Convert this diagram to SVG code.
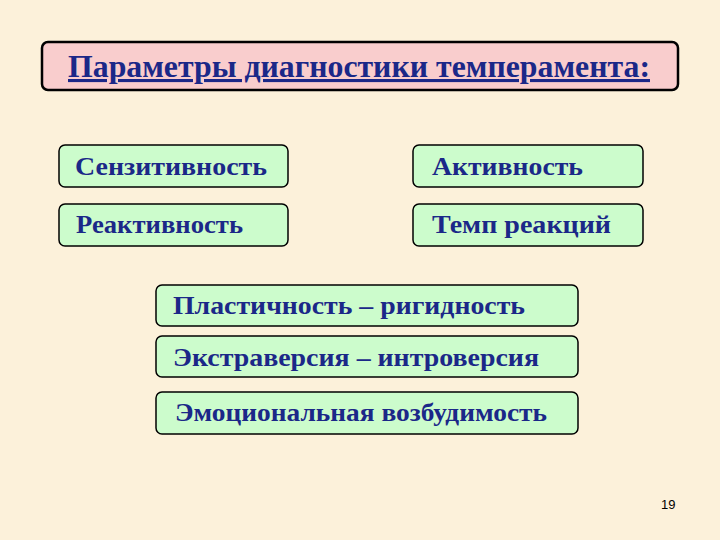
<svg xmlns="http://www.w3.org/2000/svg" width="720" height="540" viewBox="0 0 720 540">
<style>
.t{font-family:"Liberation Serif","Times New Roman",serif;font-weight:bold;fill:#1b2888;font-size:26px}
.box{fill:#ccfccc;stroke:#000;stroke-width:1.5}
.title{fill:#f9cdcd;stroke:#000;stroke-width:2.5}
</style>
<rect width="720" height="540" fill="#fcf1da"/>
<g id="title">
<rect class="title" x="42" y="42" width="636" height="48" rx="6"/>
<text class="t" x="68" y="77" style="font-size:31px" textLength="582" lengthAdjust="spacingAndGlyphs" text-decoration="underline" fill="#1a2aa0">Параметры диагностики темперамента:</text>
</g>
<g id="n1"><rect class="box" x="59" y="145" width="229" height="42" rx="6"/><text class="t" x="75" y="175" textLength="192" lengthAdjust="spacingAndGlyphs">Сензитивность</text></g>
<g id="n2"><rect class="box" x="413" y="145" width="230" height="42" rx="6"/><text class="t" x="432" y="175" textLength="151" lengthAdjust="spacingAndGlyphs">Активность</text></g>
<g id="n3"><rect class="box" x="59" y="204" width="229" height="42" rx="6"/><text class="t" x="76" y="233" textLength="167" lengthAdjust="spacingAndGlyphs">Реактивность</text></g>
<g id="n4"><rect class="box" x="413" y="204" width="230" height="42" rx="6"/><text class="t" x="432" y="233" textLength="179" lengthAdjust="spacingAndGlyphs">Темп реакций</text></g>
<g id="n5"><rect class="box" x="156" y="285" width="422" height="41" rx="6"/><text class="t" x="173" y="314" textLength="352" lengthAdjust="spacingAndGlyphs">Пластичность – ригидность</text></g>
<g id="n6"><rect class="box" x="156" y="336" width="422" height="41" rx="6"/><text class="t" x="173" y="366" textLength="366" lengthAdjust="spacingAndGlyphs">Экстраверсия – интроверсия</text></g>
<g id="n7"><rect class="box" x="156" y="392" width="422" height="42" rx="6"/><text class="t" x="175" y="421" textLength="372" lengthAdjust="spacingAndGlyphs">Эмоциональная возбудимость</text></g>
<g id="connectors"></g>
<text x="661" y="509" font-family="Liberation Sans,Arial,sans-serif" font-size="13" fill="#000">19</text>
</svg>
